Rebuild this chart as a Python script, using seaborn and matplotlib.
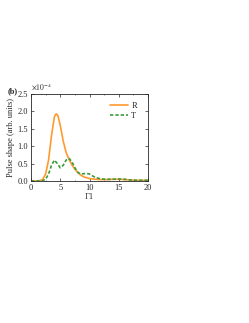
import numpy as np
import pandas as pd
import matplotlib
matplotlib.use("Agg")
import matplotlib.pyplot as plt
import seaborn as sns

x_R = [0, 1, 1.5, 2, 2.5, 3, 3.5, 4, 4.3, 4.6, 5, 5.5, 6, 6.5, 7, 7.5, 8, 8.5, 9, 10,
       11, 12, 13, 14, 15, 16, 17, 18, 19, 20]
y_R = [0, 0, 0.01, 0.05, 0.2, 0.6, 1.3, 1.85, 1.93, 1.88, 1.6, 1.15, 0.82, 0.62, 0.46,
       0.34, 0.24, 0.17, 0.12, 0.07, 0.05, 0.04, 0.04, 0.05, 0.05, 0.04, 0.03, 0.02, 0.02, 0.02]
x_T = [0, 1, 2, 2.5, 3, 3.5, 4, 4.5, 5, 5.5, 6, 6.5, 7, 7.5, 8, 8.5, 9, 9.5, 10, 10.5,
       11, 12, 13, 14, 15, 16, 17, 18, 19, 20]
y_T = [0, 0, 0.01, 0.05, 0.2, 0.45, 0.6, 0.5, 0.38, 0.45, 0.6, 0.65, 0.55, 0.38, 0.25,
       0.2, 0.21, 0.22, 0.2, 0.15, 0.1, 0.06, 0.05, 0.05, 0.06, 0.05, 0.03, 0.02, 0.02, 0.02]
series = ["R", "T"]
colors = {"R": "#ff9a2e", "T": "#3c9a3c"}

df = pd.concat([
    pd.DataFrame({"x": x_R, "y": np.array(y_R) * 1e-4, "s": "R"}),
    pd.DataFrame({"x": x_T, "y": np.array(y_T) * 1e-4, "s": "T"}),
])

sns.set_theme(style="ticks")
plt.rcParams["font.family"] = ["Liberation Serif", "DejaVu Serif"]
plt.rcParams["mathtext.fontset"] = "stix"

fig = plt.figure(figsize=(2.49, 3.23), dpi=100)
ax = fig.add_axes([0.1245, 0.4396, 0.47, 0.2694])
sns.lineplot(data=df, x="x", y="y", hue="s", style="s", palette=colors,
             dashes={"R": "", "T": (2, 1.2)}, linewidth=1.2, ax=ax)
ax.set_xlim(0, 20)
ax.set_ylim(0, 2.5e-4)
ax.set_xticks([0, 5, 10, 15, 20])
ax.set_xticks(np.arange(0, 20.1, 2.5), minor=True)
ax.set_yticks(np.arange(0, 2.51e-4, 0.5e-4))
ax.set_yticklabels(["0.0", "0.5", "1.0", "1.5", "2.0", "2.5"])
ax.set_xlabel("Γ1", fontsize=6, labelpad=1)
ax.set_ylabel("Pulse shape (arb. units)", fontsize=6, labelpad=2)
ax.tick_params(direction="in", top=True, right=True, labelsize=6, length=2, width=0.5, pad=2)
ax.tick_params(which="minor", direction="in", top=True, right=True, length=1, width=0.4)
for sp in ax.spines.values():
    sp.set_linewidth(0.6)
ax.text(0.0, 1.02, r"$\times10^{-4}$", transform=ax.transAxes, fontsize=5.5, va="bottom")
fig.text(0.03, 0.718, "(b)", fontsize=6, fontweight="bold", va="center")
leg = ax.legend(frameon=False, fontsize=6, loc="upper right", handlelength=2.2,
                handletextpad=0.4, labelspacing=0.2, bbox_to_anchor=(0.97, 0.99))
fig.savefig("out.png", dpi=100)
